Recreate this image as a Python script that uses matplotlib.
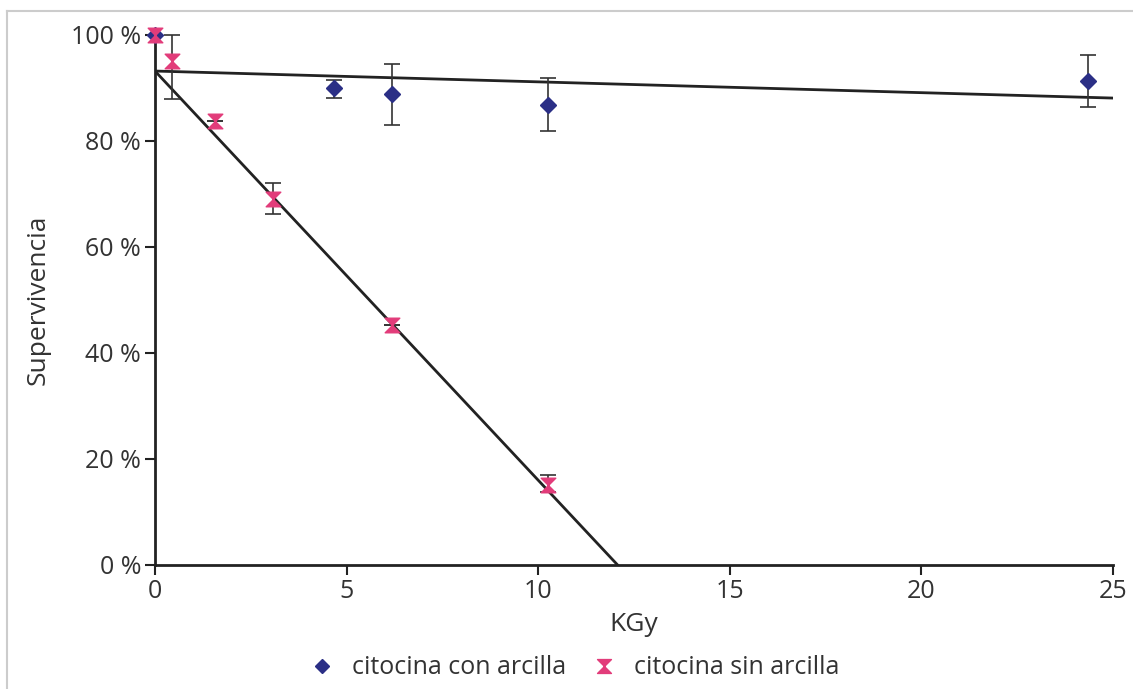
import matplotlib
matplotlib.use("Agg")
import matplotlib.pyplot as plt
import numpy as np
from matplotlib.path import Path
from matplotlib.lines import Line2D
from matplotlib.ticker import FuncFormatter

# Data
con_x = [0.0, 4.67, 6.18, 10.26, 24.35]
con_y = [100.0, 90.0, 88.8, 86.8, 91.4]
con_err_lo = [0.0, 1.9, 5.8, 4.9, 5.0]
con_err_hi = [0.0, 1.5, 5.7, 5.1, 4.8]

sin_x = [0.0, 0.45, 1.57, 3.08, 6.18, 10.26]
sin_y = [100.0, 95.0, 83.7, 69.0, 45.2, 15.1]
sin_err_lo = [0.0, 7.0, 0.0, 2.8, 0.0, 1.3]
sin_err_hi = [0.0, 5.0, 0.0, 3.0, 0.0, 1.9]

# Trend lines: intercept, slope
con_trend = (93.2, -0.204)
sin_trend = (93.2, -7.72)

x_ticks = [0, 5, 10, 15, 20, 25]
y_ticks = [0, 20, 40, 60, 80, 100]

blue = "#2B2F86"
pink = "#E23C7A"
txt = "#333333"

plt.rcParams['font.family'] = ['Open Sans', 'DejaVu Sans']

fig = plt.figure(figsize=(11.33, 6.89), dpi=100)
ax = fig.add_axes([155/1133, 124/689, (1113-155)/1133, (565-35)/689])

hour = Path([(-1, 1), (1, 1), (-1, -1), (1, -1), (-1, 1)],
            [Path.MOVETO, Path.LINETO, Path.LINETO, Path.LINETO, Path.CLOSEPOLY])

# trend lines
xc = np.array([0, 25])
ax.plot(xc, con_trend[0] + con_trend[1] * xc, color="#222222", lw=2, zorder=2)
xz = -sin_trend[0] / sin_trend[1]
xs = np.array([0, xz])
ax.plot(xs, sin_trend[0] + sin_trend[1] * xs, color="#222222", lw=2, zorder=2)

ax.errorbar(sin_x, sin_y, yerr=[sin_err_lo, sin_err_hi], fmt='none',
            ecolor="#333333", elinewidth=1.2, capsize=6, capthick=1.2, zorder=3, clip_on=False)
ax.errorbar(con_x, con_y, yerr=[con_err_lo, con_err_hi], fmt='none',
            ecolor="#333333", elinewidth=1.2, capsize=6, capthick=1.2, zorder=3, clip_on=False)

ax.plot(con_x, con_y, linestyle='none', marker='D', color=blue, markersize=8,
        zorder=4, clip_on=False)
ax.plot(sin_x, sin_y, linestyle='none', marker=hour, color=pink, markersize=10.5,
        zorder=5, clip_on=False)

ax.set_xlim(0, 25)
ax.set_ylim(0, 100)
ax.set_xticks(x_ticks)
ax.set_yticks(y_ticks)
ax.yaxis.set_major_formatter(FuncFormatter(lambda v, p: f"{int(v)} %"))
for s in ['top', 'right']:
    ax.spines[s].set_visible(False)
for s in ['left', 'bottom']:
    ax.spines[s].set_color("#222222")
    ax.spines[s].set_linewidth(2)
ax.tick_params(axis='both', direction='out', length=7, width=1.5, color="#222222",
               labelsize=18, labelcolor=txt, pad=3)

ax.set_xlabel("KGy", fontsize=19, color=txt, labelpad=6)
ax.set_ylabel("Supervivencia", fontsize=19, color=txt, labelpad=15)

handles = [Line2D([], [], linestyle='none', marker='D', color=blue, markersize=7),
           Line2D([], [], linestyle='none', marker=hour, color=pink, markersize=10)]
fig.legend(handles, ["citocina con arcilla", "citocina sin arcilla"], ncol=2,
           loc='center', bbox_to_anchor=(573/1133, 1 - 668/689), frameon=False,
           fontsize=18, labelcolor=txt, handletextpad=0.6, columnspacing=0.9,
           handlelength=1.2)

# thin gray frame (top and left)
fig.add_artist(Line2D([7/1133, 7/1133], [0, 1 - 11/689], color="#cccccc", lw=1.5))
fig.add_artist(Line2D([7/1133, 1], [1 - 11/689, 1 - 11/689], color="#cccccc", lw=1.5))

fig.savefig("out.png", dpi=100)
